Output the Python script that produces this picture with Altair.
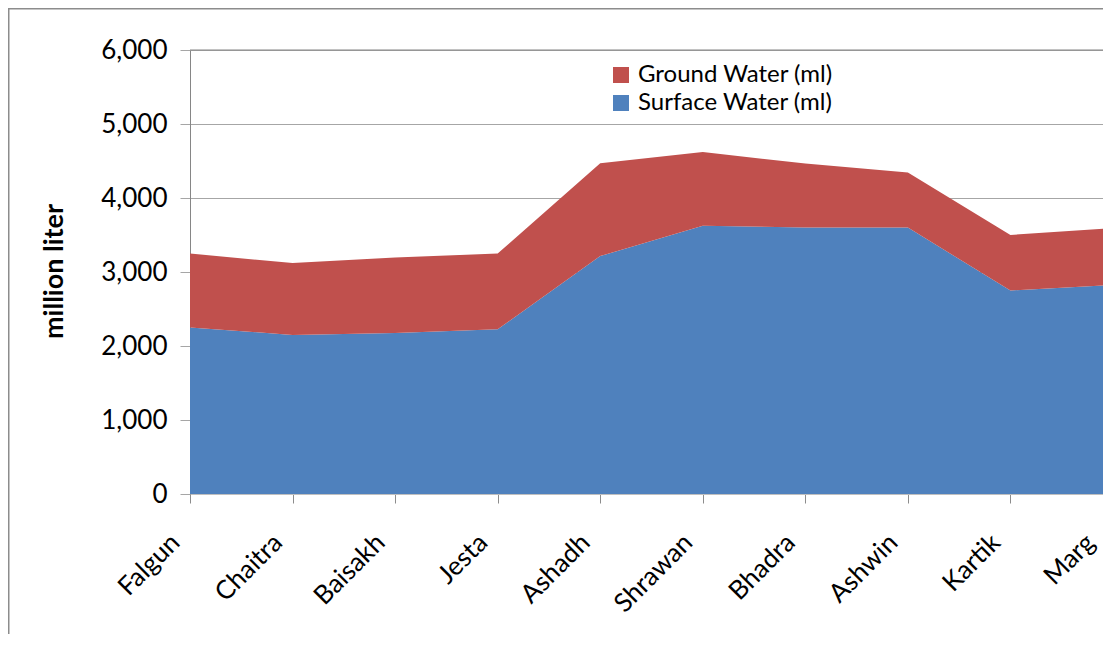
import altair as alt
import pandas as pd

months = ["Falgun", "Chaitra", "Baisakh", "Jesta", "Ashadh", "Shrawan",
          "Bhadra", "Ashwin", "Kartik", "Marg"]
surface_water = [2250, 2150, 2175, 2225, 3215, 3625, 3600, 3600, 2750, 2825]
ground_water = [1000, 970, 1020, 1025, 1255, 995, 865, 745, 750, 770]
series_names = ["Ground Water (ml)", "Surface Water (ml)"]
series_colors = ["#C0504D", "#4F81BD"]
y_ticks = [0, 1000, 2000, 3000, 4000, 5000, 6000]

rows = []
for i, m in enumerate(months):
    rows.append({"month": m, "series": series_names[1], "value": surface_water[i], "ord": 0})
    rows.append({"month": m, "series": series_names[0], "value": ground_water[i], "ord": 1})
df = pd.DataFrame(rows)

FONT = "Lato"
W, H = 913, 444
XRANGE = 923.0

last_month = months[-1]
x_label_offset = {"expr": f"datum.value === '{last_month}' ? -32 : -24"}

area = alt.Chart(df).mark_area(clip=True, opacity=1).encode(
    x=alt.X("month:N", sort=months,
            scale=alt.Scale(type="point", padding=0, range=[0, XRANGE]),
            axis=alt.Axis(title=None, labelAngle=-45, labelAlign="right",
                          labelBaseline="top", labelOffset=x_label_offset, labelPadding=26,
                          tickSize=9, tickColor="#8C8C8C", domainColor="#BFBFBF",
                          labelFont=FONT, labelFontSize=26, labelColor="black",
                          grid=False)),
    y=alt.Y("value:Q", stack="zero",
            scale=alt.Scale(domain=[0, 6000], nice=False),
            axis=alt.Axis(values=y_ticks, format=",.0f", title="million liter",
                          titleFont=FONT, titleFontSize=27, titleFontWeight="bold",
                          titleColor="black", titleAngle=270, titleX=-136, titleY=221,
                          titleAlign="center", titleBaseline="middle",
                          labelFont=FONT, labelFontSize=26, labelColor="black",
                          labelPadding=13, tickSize=10, tickColor="#A6A6A6",
                          domainColor="#868686", gridColor="#A6A6A6", grid=True)),
    color=alt.Color("series:N",
                    scale=alt.Scale(domain=series_names, range=series_colors),
                    legend=alt.Legend(orient="none", legendX=419, legendY=13,
                                      title=None, symbolType="square", symbolSize=256,
                                      symbolStrokeWidth=0, labelFont=FONT,
                                      labelFontSize=24, labelColor="black",
                                      labelLimit=400, labelOffset=5, rowPadding=4)),
    order=alt.Order("ord:Q"),
)

one = pd.DataFrame({"a": [0]})
top_line = alt.Chart(one).mark_rule(color="#868686", strokeWidth=1.2, clip=False).encode(
    x=alt.value(0), x2=alt.value(XRANGE), y=alt.value(0))
frame_left = alt.Chart(one).mark_rule(color="#8C8C8C", strokeWidth=1.5, clip=False).encode(
    x=alt.value(-181.25), y=alt.value(-42), y2=alt.value(600))
frame_top = alt.Chart(one).mark_rule(color="#8C8C8C", strokeWidth=1.5, clip=False).encode(
    x=alt.value(-182), x2=alt.value(W + 10), y=alt.value(-41.25))

chart = alt.layer(area, top_line, frame_left, frame_top).properties(
    width=W, height=H,
    autosize=alt.AutoSizeParams(type="none"),
    padding={"left": 182, "top": 42, "right": 0, "bottom": 140},
).configure_view(stroke=None)

chart.save("out.html", embed_options={"renderer": "svg", "actions": False})
